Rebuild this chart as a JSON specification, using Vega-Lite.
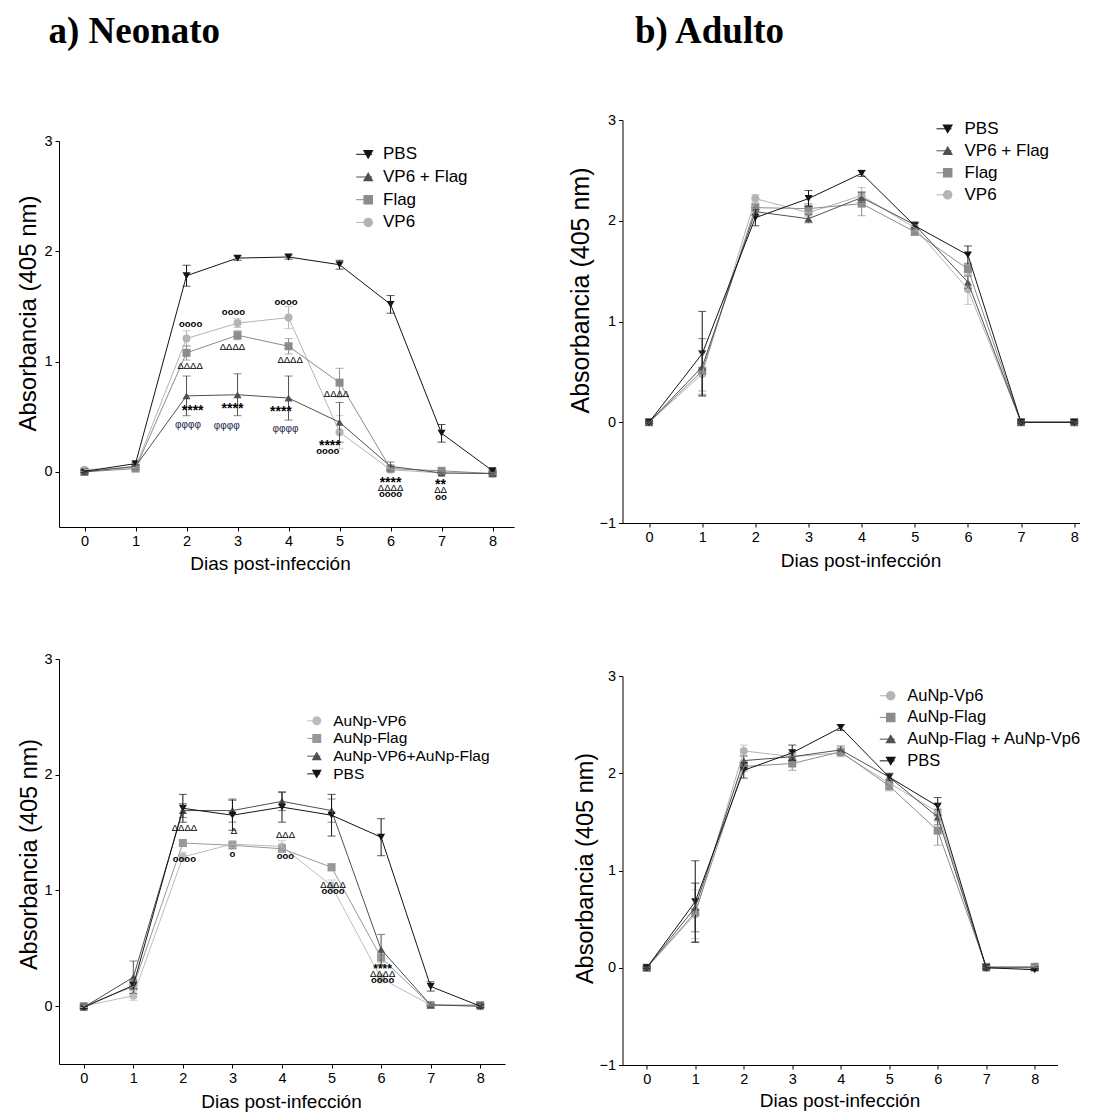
{
  "$schema": "https://vega.github.io/schema/vega-lite/v6.json",
  "padding": {"left": 16, "top": 13, "right": 0, "bottom": 0},
  "config": {
    "font": "Liberation Sans",
    "view": {"stroke": null},
    "axis": {"grid": false, "domainColor": "black", "tickColor": "black", "labelColor": "black", "titleColor": "black", "labelFontSize": 14.5, "tickSize": 4, "labelPadding": 3, "titleFontWeight": "normal", "labelFont": "Liberation Sans", "titleFont": "Liberation Sans"},
    "legend": {"labelFont": "Liberation Sans", "labelColor": "black", "padding": 0, "labelLimit": 400},
    "title": {"font": "Liberation Serif", "fontSize": 37, "fontWeight": "bold", "anchor": "start", "color": "black"}
  },
  "datasets": {
    "a": [
      {"group": "VP6", "day": 0, "mean": 0.02, "sem": 0.01}, {"group": "VP6", "day": 1, "mean": 0.04, "sem": 0.01}, {"group": "VP6", "day": 2, "mean": 1.21, "sem": 0.07}, {"group": "VP6", "day": 3, "mean": 1.35, "sem": 0.04}, {"group": "VP6", "day": 4, "mean": 1.40, "sem": 0.10}, {"group": "VP6", "day": 5, "mean": 0.36, "sem": 0.15}, {"group": "VP6", "day": 6, "mean": 0.02, "sem": 0.01}, {"group": "VP6", "day": 7, "mean": -0.01, "sem": 0.01}, {"group": "VP6", "day": 8, "mean": -0.015, "sem": 0.01},
      {"group": "Flag", "day": 0, "mean": 0.0, "sem": 0.01}, {"group": "Flag", "day": 1, "mean": 0.03, "sem": 0.01}, {"group": "Flag", "day": 2, "mean": 1.08, "sem": 0.065}, {"group": "Flag", "day": 3, "mean": 1.24, "sem": 0.04}, {"group": "Flag", "day": 4, "mean": 1.14, "sem": 0.07}, {"group": "Flag", "day": 5, "mean": 0.81, "sem": 0.13}, {"group": "Flag", "day": 6, "mean": 0.03, "sem": 0.01}, {"group": "Flag", "day": 7, "mean": 0.01, "sem": 0.01}, {"group": "Flag", "day": 8, "mean": -0.015, "sem": 0.01},
      {"group": "VP6 + Flag", "day": 0, "mean": 0.0, "sem": 0.01}, {"group": "VP6 + Flag", "day": 1, "mean": 0.05, "sem": 0.01}, {"group": "VP6 + Flag", "day": 2, "mean": 0.69, "sem": 0.18}, {"group": "VP6 + Flag", "day": 3, "mean": 0.70, "sem": 0.19}, {"group": "VP6 + Flag", "day": 4, "mean": 0.67, "sem": 0.20}, {"group": "VP6 + Flag", "day": 5, "mean": 0.45, "sem": 0.18}, {"group": "VP6 + Flag", "day": 6, "mean": 0.05, "sem": 0.04}, {"group": "VP6 + Flag", "day": 7, "mean": -0.01, "sem": 0.01}, {"group": "VP6 + Flag", "day": 8, "mean": -0.015, "sem": 0.01},
      {"group": "PBS", "day": 0, "mean": 0.005, "sem": 0.01}, {"group": "PBS", "day": 1, "mean": 0.075, "sem": 0.01}, {"group": "PBS", "day": 2, "mean": 1.78, "sem": 0.095}, {"group": "PBS", "day": 3, "mean": 1.94, "sem": 0.02}, {"group": "PBS", "day": 4, "mean": 1.95, "sem": 0.02}, {"group": "PBS", "day": 5, "mean": 1.88, "sem": 0.04}, {"group": "PBS", "day": 6, "mean": 1.52, "sem": 0.08}, {"group": "PBS", "day": 7, "mean": 0.35, "sem": 0.08}, {"group": "PBS", "day": 8, "mean": 0.01, "sem": 0.01}
    ],
    "b": [
      {"group": "VP6", "day": 0, "mean": 0.0, "sem": 0.01}, {"group": "VP6", "day": 1, "mean": 0.48, "sem": 0.2}, {"group": "VP6", "day": 2, "mean": 2.22, "sem": 0.04}, {"group": "VP6", "day": 3, "mean": 2.08, "sem": 0.04}, {"group": "VP6", "day": 4, "mean": 2.25, "sem": 0.08}, {"group": "VP6", "day": 5, "mean": 1.93, "sem": 0.03}, {"group": "VP6", "day": 6, "mean": 1.32, "sem": 0.15}, {"group": "VP6", "day": 7, "mean": 0.0, "sem": 0.01}, {"group": "VP6", "day": 8, "mean": 0.0, "sem": 0.01},
      {"group": "Flag", "day": 0, "mean": 0.0, "sem": 0.01}, {"group": "Flag", "day": 1, "mean": 0.51, "sem": 0.2}, {"group": "Flag", "day": 2, "mean": 2.13, "sem": 0.04}, {"group": "Flag", "day": 3, "mean": 2.12, "sem": 0.05}, {"group": "Flag", "day": 4, "mean": 2.17, "sem": 0.12}, {"group": "Flag", "day": 5, "mean": 1.89, "sem": 0.03}, {"group": "Flag", "day": 6, "mean": 1.52, "sem": 0.06}, {"group": "Flag", "day": 7, "mean": 0.0, "sem": 0.01}, {"group": "Flag", "day": 8, "mean": 0.0, "sem": 0.01},
      {"group": "VP6 + Flag", "day": 0, "mean": 0.0, "sem": 0.01}, {"group": "VP6 + Flag", "day": 1, "mean": 0.55, "sem": 0.28}, {"group": "VP6 + Flag", "day": 2, "mean": 2.09, "sem": 0.04}, {"group": "VP6 + Flag", "day": 3, "mean": 2.02, "sem": 0.04}, {"group": "VP6 + Flag", "day": 4, "mean": 2.23, "sem": 0.05}, {"group": "VP6 + Flag", "day": 5, "mean": 1.96, "sem": 0.03}, {"group": "VP6 + Flag", "day": 6, "mean": 1.39, "sem": 0.06}, {"group": "VP6 + Flag", "day": 7, "mean": 0.0, "sem": 0.01}, {"group": "VP6 + Flag", "day": 8, "mean": 0.0, "sem": 0.01},
      {"group": "PBS", "day": 0, "mean": 0.0, "sem": 0.01}, {"group": "PBS", "day": 1, "mean": 0.68, "sem": 0.42}, {"group": "PBS", "day": 2, "mean": 2.03, "sem": 0.08}, {"group": "PBS", "day": 3, "mean": 2.22, "sem": 0.08}, {"group": "PBS", "day": 4, "mean": 2.47, "sem": 0.03}, {"group": "PBS", "day": 5, "mean": 1.95, "sem": 0.03}, {"group": "PBS", "day": 6, "mean": 1.66, "sem": 0.09}, {"group": "PBS", "day": 7, "mean": 0.0, "sem": 0.01}, {"group": "PBS", "day": 8, "mean": 0.0, "sem": 0.01}
    ],
    "c": [
      {"group": "AuNp-VP6", "day": 0, "mean": 0.0, "sem": 0.01}, {"group": "AuNp-VP6", "day": 1, "mean": 0.09, "sem": 0.04}, {"group": "AuNp-VP6", "day": 2, "mean": 1.29, "sem": 0.04}, {"group": "AuNp-VP6", "day": 3, "mean": 1.40, "sem": 0.03}, {"group": "AuNp-VP6", "day": 4, "mean": 1.38, "sem": 0.05}, {"group": "AuNp-VP6", "day": 5, "mean": 1.04, "sem": 0.05}, {"group": "AuNp-VP6", "day": 6, "mean": 0.24, "sem": 0.04}, {"group": "AuNp-VP6", "day": 7, "mean": 0.01, "sem": 0.01}, {"group": "AuNp-VP6", "day": 8, "mean": 0.0, "sem": 0.01},
      {"group": "AuNp-Flag", "day": 0, "mean": 0.0, "sem": 0.01}, {"group": "AuNp-Flag", "day": 1, "mean": 0.17, "sem": 0.06}, {"group": "AuNp-Flag", "day": 2, "mean": 1.41, "sem": 0.03}, {"group": "AuNp-Flag", "day": 3, "mean": 1.39, "sem": 0.03}, {"group": "AuNp-Flag", "day": 4, "mean": 1.36, "sem": 0.03}, {"group": "AuNp-Flag", "day": 5, "mean": 1.20, "sem": 0.03}, {"group": "AuNp-Flag", "day": 6, "mean": 0.42, "sem": 0.04}, {"group": "AuNp-Flag", "day": 7, "mean": 0.01, "sem": 0.01}, {"group": "AuNp-Flag", "day": 8, "mean": 0.01, "sem": 0.01},
      {"group": "AuNp-VP6+AuNp-Flag", "day": 0, "mean": -0.01, "sem": 0.01}, {"group": "AuNp-VP6+AuNp-Flag", "day": 1, "mean": 0.25, "sem": 0.14}, {"group": "AuNp-VP6+AuNp-Flag", "day": 2, "mean": 1.69, "sem": 0.06}, {"group": "AuNp-VP6+AuNp-Flag", "day": 3, "mean": 1.69, "sem": 0.10}, {"group": "AuNp-VP6+AuNp-Flag", "day": 4, "mean": 1.77, "sem": 0.08}, {"group": "AuNp-VP6+AuNp-Flag", "day": 5, "mean": 1.69, "sem": 0.10}, {"group": "AuNp-VP6+AuNp-Flag", "day": 6, "mean": 0.49, "sem": 0.13}, {"group": "AuNp-VP6+AuNp-Flag", "day": 7, "mean": 0.01, "sem": 0.01}, {"group": "AuNp-VP6+AuNp-Flag", "day": 8, "mean": 0.0, "sem": 0.01},
      {"group": "PBS", "day": 0, "mean": -0.01, "sem": 0.01}, {"group": "PBS", "day": 1, "mean": 0.18, "sem": 0.03}, {"group": "PBS", "day": 2, "mean": 1.71, "sem": 0.12}, {"group": "PBS", "day": 3, "mean": 1.65, "sem": 0.13}, {"group": "PBS", "day": 4, "mean": 1.72, "sem": 0.13}, {"group": "PBS", "day": 5, "mean": 1.65, "sem": 0.18}, {"group": "PBS", "day": 6, "mean": 1.46, "sem": 0.16}, {"group": "PBS", "day": 7, "mean": 0.17, "sem": 0.04}, {"group": "PBS", "day": 8, "mean": 0.0, "sem": 0.01}
    ],
    "d": [
      {"group": "AuNp-Vp6", "day": 0, "mean": 0.0, "sem": 0.01}, {"group": "AuNp-Vp6", "day": 1, "mean": 0.55, "sem": 0.25}, {"group": "AuNp-Vp6", "day": 2, "mean": 2.23, "sem": 0.06}, {"group": "AuNp-Vp6", "day": 3, "mean": 2.17, "sem": 0.04}, {"group": "AuNp-Vp6", "day": 4, "mean": 2.21, "sem": 0.04}, {"group": "AuNp-Vp6", "day": 5, "mean": 1.90, "sem": 0.04}, {"group": "AuNp-Vp6", "day": 6, "mean": 1.60, "sem": 0.10}, {"group": "AuNp-Vp6", "day": 7, "mean": 0.0, "sem": 0.01}, {"group": "AuNp-Vp6", "day": 8, "mean": 0.01, "sem": 0.01},
      {"group": "AuNp-Flag", "day": 0, "mean": 0.0, "sem": 0.01}, {"group": "AuNp-Flag", "day": 1, "mean": 0.57, "sem": 0.30}, {"group": "AuNp-Flag", "day": 2, "mean": 2.07, "sem": 0.05}, {"group": "AuNp-Flag", "day": 3, "mean": 2.10, "sem": 0.07}, {"group": "AuNp-Flag", "day": 4, "mean": 2.22, "sem": 0.04}, {"group": "AuNp-Flag", "day": 5, "mean": 1.87, "sem": 0.05}, {"group": "AuNp-Flag", "day": 6, "mean": 1.41, "sem": 0.15}, {"group": "AuNp-Flag", "day": 7, "mean": 0.01, "sem": 0.01}, {"group": "AuNp-Flag", "day": 8, "mean": 0.01, "sem": 0.01},
      {"group": "AuNp-Flag + AuNp-Vp6", "day": 0, "mean": 0.0, "sem": 0.01}, {"group": "AuNp-Flag + AuNp-Vp6", "day": 1, "mean": 0.62, "sem": 0.25}, {"group": "AuNp-Flag + AuNp-Vp6", "day": 2, "mean": 2.13, "sem": 0.05}, {"group": "AuNp-Flag + AuNp-Vp6", "day": 3, "mean": 2.17, "sem": 0.04}, {"group": "AuNp-Flag + AuNp-Vp6", "day": 4, "mean": 2.24, "sem": 0.04}, {"group": "AuNp-Flag + AuNp-Vp6", "day": 5, "mean": 1.96, "sem": 0.03}, {"group": "AuNp-Flag + AuNp-Vp6", "day": 6, "mean": 1.55, "sem": 0.08}, {"group": "AuNp-Flag + AuNp-Vp6", "day": 7, "mean": 0.0, "sem": 0.01}, {"group": "AuNp-Flag + AuNp-Vp6", "day": 8, "mean": 0.0, "sem": 0.01},
      {"group": "PBS", "day": 0, "mean": 0.0, "sem": 0.01}, {"group": "PBS", "day": 1, "mean": 0.68, "sem": 0.42}, {"group": "PBS", "day": 2, "mean": 2.03, "sem": 0.08}, {"group": "PBS", "day": 3, "mean": 2.21, "sem": 0.08}, {"group": "PBS", "day": 4, "mean": 2.47, "sem": 0.03}, {"group": "PBS", "day": 5, "mean": 1.96, "sem": 0.04}, {"group": "PBS", "day": 6, "mean": 1.66, "sem": 0.09}, {"group": "PBS", "day": 7, "mean": 0.0, "sem": 0.01}, {"group": "PBS", "day": 8, "mean": -0.02, "sem": 0.01}
    ],
    "ann_a": [
      {"day": 2.08, "mean": 1.344, "label": "oooo", "kind": "o"}, {"day": 2.07, "mean": 0.958, "label": "ΔΔΔΔ", "kind": "delta"}, {"day": 2.12, "mean": 0.55, "label": "****", "kind": "star"}, {"day": 2.03, "mean": 0.423, "label": "φφφφ", "kind": "phi"},
      {"day": 2.92, "mean": 1.447, "label": "oooo", "kind": "o"}, {"day": 2.90, "mean": 1.13, "label": "ΔΔΔΔ", "kind": "delta"}, {"day": 2.90, "mean": 0.572, "label": "****", "kind": "star"}, {"day": 2.79, "mean": 0.42, "label": "φφφφ", "kind": "phi"},
      {"day": 3.95, "mean": 1.544, "label": "oooo", "kind": "o"}, {"day": 4.03, "mean": 1.012, "label": "ΔΔΔΔ", "kind": "delta"}, {"day": 3.85, "mean": 0.54, "label": "****", "kind": "star"}, {"day": 3.94, "mean": 0.393, "label": "φφφφ", "kind": "phi"},
      {"day": 4.94, "mean": 0.704, "label": "ΔΔΔΔ", "kind": "delta"}, {"day": 4.81, "mean": 0.232, "label": "****", "kind": "star"}, {"day": 4.77, "mean": 0.19, "label": "oooo", "kind": "o"},
      {"day": 6.0, "mean": -0.097, "label": "****", "kind": "star"}, {"day": 6.0, "mean": -0.142, "label": "ΔΔΔΔ", "kind": "delta"}, {"day": 6.0, "mean": -0.205, "label": "oooo", "kind": "o"},
      {"day": 6.98, "mean": -0.122, "label": "**", "kind": "star"}, {"day": 6.98, "mean": -0.166, "label": "ΔΔ", "kind": "delta"}, {"day": 6.99, "mean": -0.227, "label": "oo", "kind": "o"}
    ],
    "ann_c": [
      {"day": 2.03, "mean": 1.539, "label": "ΔΔΔΔ", "kind": "delta"}, {"day": 2.03, "mean": 1.274, "label": "oooo", "kind": "o"},
      {"day": 3.03, "mean": 1.513, "label": "Δ", "kind": "delta"}, {"day": 3.0, "mean": 1.311, "label": "o", "kind": "o"},
      {"day": 4.07, "mean": 1.481, "label": "ΔΔΔ", "kind": "delta"}, {"day": 4.07, "mean": 1.297, "label": "ooo", "kind": "o"},
      {"day": 5.03, "mean": 1.049, "label": "ΔΔΔΔ", "kind": "delta"}, {"day": 5.03, "mean": 0.994, "label": "oooo", "kind": "o"},
      {"day": 6.03, "mean": 0.318, "label": "****", "kind": "star"}, {"day": 6.03, "mean": 0.28, "label": "ΔΔΔΔ", "kind": "delta"}, {"day": 6.03, "mean": 0.222, "label": "oooo", "kind": "o"}
    ]
  },
  "resolve": {"scale": {"color": "independent", "shape": "independent", "stroke": "independent"}, "legend": {"color": "independent", "shape": "independent", "stroke": "independent"}},
  "spacing": 54.5,
  "hconcat": [
    {
      "spacing": 77,
      "resolve": {"scale": {"color": "independent", "shape": "independent", "stroke": "independent"}, "legend": {"color": "independent", "shape": "independent", "stroke": "independent"}},
      "vconcat": [
        {
          "title": {"text": "a) Neonato", "offset": 69, "dx": 32},
          "width": 455, "height": 407,
          "data": {"name": "a"},
          "encoding": {
            "x": {"field": "day", "type": "quantitative", "scale": {"domain": [-0.5, 8.42], "nice": false, "zero": false}, "axis": {"values": [0, 1, 2, 3, 4, 5, 6, 7, 8], "title": "Dias post-infección", "titleFontSize": 19, "titlePadding": 7, "titleX": 211}},
            "y": {"field": "mean", "type": "quantitative", "scale": {"domain": [-0.5, 3.193], "nice": false, "zero": false}, "axis": {"values": [0, 1, 2, 3], "title": "Absorbancia (405 nm)", "titleFontSize": 24, "titlePadding": 3.5, "titleY": 193, "domainDash": [386, 80]}}
          },
          "layer": [
            {"mark": {"type": "point", "filled": true, "size": 64, "opacity": 1},
             "encoding": {
               "color": {"field": "group", "type": "nominal", "scale": {"domain": ["PBS", "VP6 + Flag", "Flag", "VP6"], "range": ["#141414", "#505050", "#8c8c8c", "#b4b4b4"]},
                 "legend": {"orient": "none", "legendX": 300.7, "legendY": 25.8, "title": null, "labelFontSize": 17, "labelOffset": 6.3, "rowPadding": 4.7, "symbolSize": 64}},
               "shape": {"field": "group", "type": "nominal", "scale": {"domain": ["PBS", "VP6 + Flag", "Flag", "VP6"], "range": ["triangle-down", "triangle-up", "square", "circle"]}}
             }},
            {"mark": {"type": "errorbar", "ticks": {"size": 8}, "thickness": 1}, "encoding": {"yError": {"field": "sem"}, "color": {"field": "group", "type": "nominal"}}},
            {"mark": {"type": "line", "strokeWidth": 1},
             "encoding": {"stroke": {"field": "group", "type": "nominal", "sort": ["PBS", "VP6 + Flag", "Flag", "VP6"], "scale": {"range": ["#141414", "#505050", "#8c8c8c", "#b4b4b4"]},
               "legend": {"orient": "none", "legendX": 296.7, "legendY": 25.8, "title": null, "symbolType": "stroke", "symbolSize": 256, "symbolStrokeWidth": 1, "labelFontSize": 17, "rowPadding": 4.7, "labelExpr": "''"}}}},
            {"data": {"name": "ann_a"}, "transform": [{"filter": "datum.kind === 'o'"}], "mark": {"type": "text", "fontWeight": "bold", "baseline": "middle", "fontSize": 9.5, "color": "black"}, "encoding": {"text": {"field": "label"}}},
            {"data": {"name": "ann_a"}, "transform": [{"filter": "datum.kind === 'delta'"}], "mark": {"type": "text", "baseline": "middle", "fontSize": 9.5, "color": "black"}, "encoding": {"text": {"field": "label"}}},
            {"data": {"name": "ann_a"}, "transform": [{"filter": "datum.kind === 'star'"}], "mark": {"type": "text", "fontWeight": "bold", "baseline": "middle", "fontSize": 14, "color": "black"}, "encoding": {"text": {"field": "label"}}},
            {"data": {"name": "ann_a"}, "transform": [{"filter": "datum.kind === 'phi'"}], "mark": {"type": "text", "baseline": "middle", "fontSize": 10, "color": "#22284a"}, "encoding": {"text": {"field": "label"}}}
          ]
        },
        {
          "width": 446, "height": 405,
          "data": {"name": "c"},
          "encoding": {
            "x": {"field": "day", "type": "quantitative", "scale": {"domain": [-0.5, 8.5], "nice": false, "zero": false}, "axis": {"values": [0, 1, 2, 3, 4, 5, 6, 7, 8], "title": "Dias post-infección", "titleFontSize": 19, "titlePadding": 8, "titleX": 222}},
            "y": {"field": "mean", "type": "quantitative", "scale": {"domain": [-0.5, 3], "nice": false, "zero": false}, "axis": {"values": [0, 1, 2, 3], "title": "Absorbancia (405 nm)", "titleFontSize": 23.5, "titlePadding": 2.8, "titleY": 195}}
          },
          "layer": [
            {"mark": {"type": "point", "filled": true, "size": 64, "opacity": 1},
             "encoding": {
               "color": {"field": "group", "type": "nominal", "scale": {"domain": ["AuNp-VP6", "AuNp-Flag", "AuNp-VP6+AuNp-Flag", "PBS"], "range": ["#bdbdbd", "#999999", "#505050", "#141414"]},
                 "legend": {"orient": "none", "legendX": 250, "legendY": 54, "title": null, "labelFontSize": 15.5, "labelOffset": 8.7, "rowPadding": 0.7, "symbolSize": 56}},
               "shape": {"field": "group", "type": "nominal", "scale": {"domain": ["AuNp-VP6", "AuNp-Flag", "AuNp-VP6+AuNp-Flag", "PBS"], "range": ["circle", "square", "triangle-up", "triangle-down"]}}
             }},
            {"mark": {"type": "errorbar", "ticks": {"size": 8}, "thickness": 1}, "encoding": {"yError": {"field": "sem"}, "color": {"field": "group", "type": "nominal"}}},
            {"mark": {"type": "line", "strokeWidth": 1},
             "encoding": {"stroke": {"field": "group", "type": "nominal", "sort": ["AuNp-VP6", "AuNp-Flag", "AuNp-VP6+AuNp-Flag", "PBS"], "scale": {"range": ["#bdbdbd", "#999999", "#505050", "#141414"]},
               "legend": {"orient": "none", "legendX": 247, "legendY": 54, "title": null, "symbolType": "stroke", "symbolSize": 169, "symbolStrokeWidth": 1, "labelFontSize": 15.5, "rowPadding": 0.7, "labelExpr": "''"}}}},
            {"data": {"name": "ann_c"}, "transform": [{"filter": "datum.kind === 'o'"}], "mark": {"type": "text", "fontWeight": "bold", "baseline": "middle", "fontSize": 9.5, "color": "black"}, "encoding": {"text": {"field": "label"}}},
            {"data": {"name": "ann_c"}, "transform": [{"filter": "datum.kind === 'delta'"}], "mark": {"type": "text", "baseline": "middle", "fontSize": 9.5, "color": "black"}, "encoding": {"text": {"field": "label"}}},
            {"data": {"name": "ann_c"}, "transform": [{"filter": "datum.kind === 'star'"}], "mark": {"type": "text", "fontWeight": "bold", "baseline": "middle", "fontSize": 12, "color": "black"}, "encoding": {"text": {"field": "label"}}}
          ]
        }
      ]
    },
    {
      "columns": 1,
      "align": "none",
      "spacing": 97,
      "resolve": {"scale": {"color": "independent", "shape": "independent", "stroke": "independent"}, "legend": {"color": "independent", "shape": "independent", "stroke": "independent"}},
      "concat": [
        {
          "title": {"text": "b) Adulto", "offset": 61, "dx": 66},
          "width": 457, "height": 403,
          "data": {"name": "b"},
          "encoding": {
            "x": {"field": "day", "type": "quantitative", "scale": {"domain": [-0.5, 8.1], "nice": false, "zero": false}, "axis": {"values": [0, 1, 2, 3, 4, 5, 6, 7, 8], "title": "Dias post-infección", "titleFontSize": 19, "titlePadding": 8, "titleX": 238}},
            "y": {"field": "mean", "type": "quantitative", "scale": {"domain": [-1, 3], "nice": false, "zero": false}, "axis": {"values": [-1, 0, 1, 2, 3], "title": "Absorbancia (405 nm)", "titleFontSize": 25, "titlePadding": 5, "titleY": 170}}
          },
          "layer": [
            {"mark": {"type": "point", "filled": true, "size": 64, "opacity": 1},
             "encoding": {
               "color": {"field": "group", "type": "nominal", "scale": {"domain": ["PBS", "VP6 + Flag", "Flag", "VP6"], "range": ["#141414", "#505050", "#8c8c8c", "#b4b4b4"]},
                 "legend": {"orient": "none", "legendX": 316.7, "legendY": 0.3, "title": null, "labelFontSize": 17, "labelOffset": 8.3, "rowPadding": 4, "symbolSize": 64}},
               "shape": {"field": "group", "type": "nominal", "scale": {"domain": ["PBS", "VP6 + Flag", "Flag", "VP6"], "range": ["triangle-down", "triangle-up", "square", "circle"]}}
             }},
            {"mark": {"type": "errorbar", "ticks": {"size": 8}, "thickness": 1}, "encoding": {"yError": {"field": "sem"}, "color": {"field": "group", "type": "nominal"}}},
            {"mark": {"type": "line", "strokeWidth": 1},
             "encoding": {"stroke": {"field": "group", "type": "nominal", "sort": ["PBS", "VP6 + Flag", "Flag", "VP6"], "scale": {"range": ["#141414", "#505050", "#8c8c8c", "#b4b4b4"]},
               "legend": {"orient": "none", "legendX": 313, "legendY": 0.3, "title": null, "symbolType": "stroke", "symbolSize": 225, "symbolStrokeWidth": 1, "labelFontSize": 17, "rowPadding": 4, "labelExpr": "''"}}}}
          ]
        },
        {
          "width": 435, "height": 389,
          "data": {"name": "d"},
          "encoding": {
            "x": {"field": "day", "type": "quantitative", "scale": {"domain": [-0.5, 8.47], "nice": false, "zero": false}, "axis": {"values": [0, 1, 2, 3, 4, 5, 6, 7, 8], "title": "Dias post-infección", "titleFontSize": 19, "titlePadding": 6, "titleX": 217}},
            "y": {"field": "mean", "type": "quantitative", "scale": {"domain": [-1, 3], "nice": false, "zero": false}, "axis": {"values": [-1, 0, 1, 2, 3], "title": "Absorbancia (405 nm)", "titleFontSize": 23.5, "titlePadding": 1, "titleY": 192}}
          },
          "layer": [
            {"mark": {"type": "point", "filled": true, "size": 64, "opacity": 1},
             "encoding": {
               "color": {"field": "group", "type": "nominal", "scale": {"domain": ["AuNp-Vp6", "AuNp-Flag", "AuNp-Flag + AuNp-Vp6", "PBS"], "range": ["#b4b4b4", "#8c8c8c", "#505050", "#141414"]},
                 "legend": {"orient": "none", "legendX": 260, "legendY": 11.5, "title": null, "labelFontSize": 16.5, "labelOffset": 8.2, "rowPadding": 4.7, "symbolSize": 64}},
               "shape": {"field": "group", "type": "nominal", "scale": {"domain": ["AuNp-Vp6", "AuNp-Flag", "AuNp-Flag + AuNp-Vp6", "PBS"], "range": ["circle", "square", "triangle-up", "triangle-down"]}}
             }},
            {"mark": {"type": "errorbar", "ticks": {"size": 8}, "thickness": 1}, "encoding": {"yError": {"field": "sem"}, "color": {"field": "group", "type": "nominal"}}},
            {"mark": {"type": "line", "strokeWidth": 1},
             "encoding": {"stroke": {"field": "group", "type": "nominal", "sort": ["AuNp-Vp6", "AuNp-Flag", "AuNp-Flag + AuNp-Vp6", "PBS"], "scale": {"range": ["#b4b4b4", "#8c8c8c", "#505050", "#141414"]},
               "legend": {"orient": "none", "legendX": 256.5, "legendY": 11.5, "title": null, "symbolType": "stroke", "symbolSize": 225, "symbolStrokeWidth": 1, "labelFontSize": 16.5, "rowPadding": 4.7, "labelExpr": "''"}}}}
          ]
        }
      ]
    }
  ]
}
